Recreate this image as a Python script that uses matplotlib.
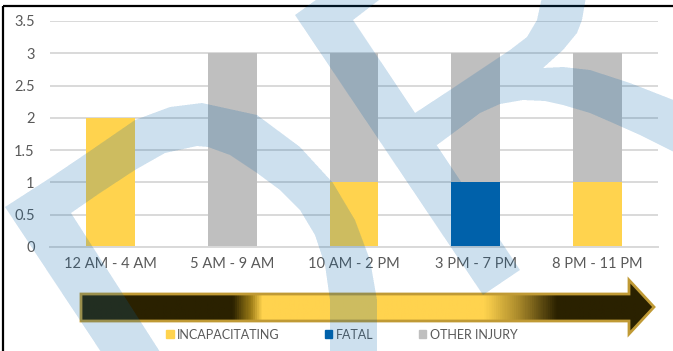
import numpy as np
import matplotlib.pyplot as plt
from matplotlib.path import Path
from matplotlib.patches import Patch, Polygon
from matplotlib.colors import LinearSegmentedColormap

plt.rcParams['font.family'] = ['Lato', 'DejaVu Sans']

# data
categories = ["12 AM - 4 AM", "5 AM - 9 AM", "10 AM - 2 PM", "3 PM - 7 PM", "8 PM - 11 PM"]
incapacitating = [2, 0, 1, 0, 1]
fatal = [0, 0, 0, 1, 0]
other_injury = [0, 3, 2, 2, 2]

yellow = '#FFD34E'
blue = '#0061AA'
gray = '#BFBFBF'
txt = '#595959'

W, H = 673, 351
fig = plt.figure(figsize=(W / 100, H / 100), dpi=100)

# main chart
ax = fig.add_axes([50 / W, 1 - 247 / H, 608 / W, 226 / H])
x = np.arange(len(categories))
inc = np.array(incapacitating)
fat = np.array(fatal)
oth = np.array(other_injury)
ax.bar(x, inc, width=0.4, color=yellow, zorder=2)
ax.bar(x, fat, width=0.4, bottom=inc, color=blue, zorder=2)
ax.bar(x, oth, width=0.4, bottom=inc + fat, color=gray, zorder=2)
ax.set_xlim(-0.5, 4.5)
ax.set_ylim(0, 3.5)
ax.set_yticks(np.arange(0, 3.51, 0.5))
ax.set_yticklabels(['0', '0.5', '1', '1.5', '2', '2.5', '3', '3.5'])
ax.set_xticks(x)
ax.set_xticklabels(categories)
ax.yaxis.grid(True, color='#D9D9D9', lw=1.4, zorder=0)
ax.set_axisbelow(True)
for s in ['top', 'left', 'right']:
    ax.spines[s].set_visible(False)
ax.spines['bottom'].set_color('#D9D9D9')
ax.spines['bottom'].set_linewidth(1.4)
ax.tick_params(length=0, labelsize=10.5, labelcolor=txt)
ax.tick_params(axis='y', pad=11)
ax.tick_params(axis='x', pad=7)

# legend
handles = [Patch(color=yellow), Patch(color=blue), Patch(color=gray)]
fig.legend(handles, ['INCAPACITATING', 'FATAL', 'OTHER INJURY'], loc='center',
           bbox_to_anchor=(0.508, 0.047), ncol=3, frameon=False, fontsize=9,
           handlelength=0.6, handleheight=0.6, handletextpad=0.3,
           columnspacing=3.6, labelcolor=txt)

# overlay in pixel coordinates: frame, arrow, watermark
ov = fig.add_axes([0, 0, 1, 1], zorder=10)
ov.set_xlim(0, W)
ov.set_ylim(H, 0)
ov.axis('off')

ov.plot([3, W], [6, 6], color='black', lw=1.6, zorder=1, solid_capstyle='butt')
ov.plot([3, 3], [6, H], color='black', lw=1.6, zorder=1, solid_capstyle='butt')

arrow_pts = [(81, 294), (629, 294), (629, 280), (654, 307), (629, 334), (629, 321), (81, 321)]
arrow = Polygon(arrow_pts, closed=True, facecolor='none', edgecolor='#C09A35', lw=2, zorder=2)
ov.add_patch(arrow)
x0, x1 = 79, 656
dark = '#2A2100'
def f(px):
    return (px - x0) / (x1 - x0)
cmap = LinearSegmentedColormap.from_list('arr', [
    (0, dark), (f(232), dark), (f(250), '#9A7A16'), (f(262), yellow),
    (f(485), yellow), (f(520), '#A8882A'), (f(558), dark), (1, dark)])
grad = np.linspace(0, 1, 800).reshape(1, -1)
im = ov.imshow(grad, cmap=cmap, extent=(x0, x1, 336, 278), aspect='auto', zorder=1)
im.set_clip_path(arrow)

# watermark shapes (pixel coords, y down)
arc = [(103, 355), (5, 207), (50, 178), (87, 153), (135, 120), (170, 107), (202, 103),
       (257, 115), (300, 147), (333, 183), (355, 220), (370, 260), (377, 300), (377, 355),
       (330, 355), (330, 300), (325, 265), (315, 235), (300, 210), (280, 190), (257, 173),
       (230, 155), (208, 147), (197, 146), (165, 153), (135, 170), (100, 193), (71, 213),
       (162, 355)]
band = [(320, -3), (295, 15), (483, 295), (520, 270), (353, 20), (383, -3)]
hook = [(400, 125), (415, 113), (450, 90), (480, 70), (510, 50), (527, 37), (537, 20),
        (542, -3), (586, -3), (582, 20), (577, 33), (563, 50), (543, 68), (563, 67),
        (590, 70), (630, 83), (676, 101), (676, 153), (640, 135), (613, 123), (590, 113),
        (563, 105), (545, 101), (523, 100), (500, 104), (480, 113), (460, 128), (437, 145)]
ss = 3
gx, gy = np.meshgrid((np.arange(W * ss) + 0.5) / ss, (np.arange(H * ss) + 0.5) / ss)
pts = np.column_stack([gx.ravel(), gy.ravel()])
mask = np.zeros(len(pts), dtype=bool)
for poly in [arc, band, hook]:
    mask |= Path(poly).contains_points(pts)
cov = mask.reshape(H * ss, W * ss).astype(float)
cov = cov.reshape(H, ss, W, ss).mean(axis=(1, 3))
rgba = np.zeros((H, W, 4))
rgba[..., 0] = 5 / 255
rgba[..., 1] = 100 / 255
rgba[..., 2] = 170 / 255
rgba[..., 3] = 0.2 * cov
ov.imshow(rgba, extent=(0, W, H, 0), aspect='auto', interpolation='nearest', zorder=3)

fig.savefig('out.png', dpi=100)
